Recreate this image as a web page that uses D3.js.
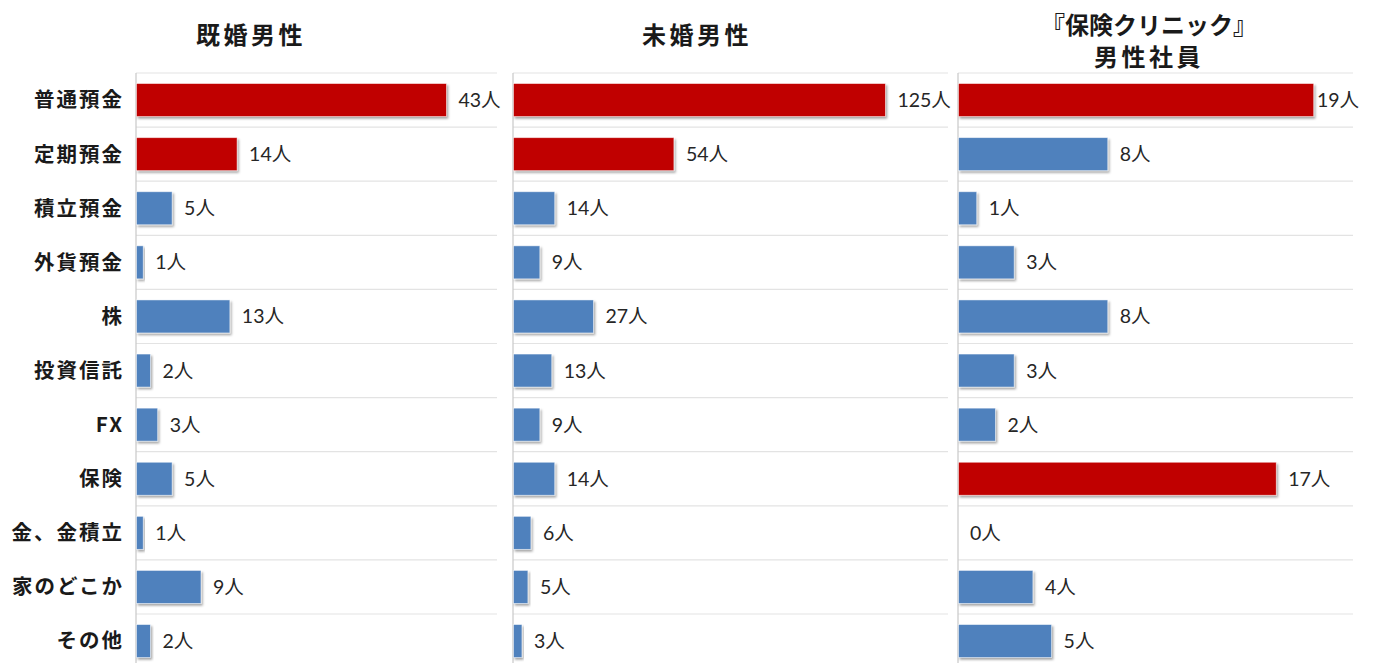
<!DOCTYPE html>
<html>
<head>
<meta charset="utf-8">
<script src="https://cdn.jsdelivr.net/npm/d3@7"></script>
<style>
    body { margin: 0; background: #fff; }
    svg { display: block; }
    .title { font-family: "Noto Sans CJK JP", sans-serif; font-weight: bold; fill: #1a1a1a; }
    .cat { font-family: "Noto Sans CJK JP", sans-serif; font-weight: bold; font-size: 20.5px; fill: #1a1a1a; }
    .val { font-family: "Lato", "Noto Sans CJK JP", sans-serif; font-size: 19.5px; fill: #262626; }
</style>
</head>
<body>
<div id="chart"></div>
<script>
// categories (top to bottom)
const categories = ["普通預金", "定期預金", "積立預金", "外貨預金", "株", "投資信託", "FX", "保険", "金、金積立", "家のどこか", "その他"];

// series values (people)
const marriedValues = [43, 14, 5, 1, 13, 2, 3, 5, 1, 9, 2];
const singleValues = [125, 54, 14, 9, 27, 13, 9, 14, 6, 5, 3];
const staffValues = [19, 8, 1, 3, 8, 3, 2, 17, 0, 4, 5];

// which rows are highlighted in red
const marriedHighlight = ["普通預金", "定期預金"];
const singleHighlight = ["普通預金", "定期預金"];
const staffHighlight = ["普通預金", "保険"];

const panelTitles = [["既婚男性"], ["未婚男性"], ["『保険クリニック』", "男性社員"]];

const width = 1375, height = 663;
const red = "#C00000", blue = "#4F81BD";

let svg = d3.select("#chart").append("svg")
    .attr("width", width)
    .attr("height", height);

//Drop shadow used by the bars
let defs = svg.append("defs");
defs.append("filter")
    .attr("id", "shadow")
    .attr("x", "-10%").attr("y", "-20%")
    .attr("width", "130%").attr("height", "160%")
    .append("feDropShadow")
    .attr("dx", 1.5).attr("dy", 2)
    .attr("stdDeviation", 1.2)
    .attr("flood-color", "#000")
    .attr("flood-opacity", 0.35);

let yScale = d3.scaleBand()
    .domain(categories)
    .range([73, 73 + 54.1 * categories.length])
    .paddingInner(0.39)
    .paddingOuter(0.195);

let panels = [
    {values: marriedValues, highlight: marriedHighlight, max: 50, x0: 136, x1: 497, titleX: 251, titleY: [44]},
    {values: singleValues, highlight: singleHighlight, max: 146, x0: 513, x1: 948, titleX: 697, titleY: [44]},
    {values: staffValues, highlight: staffHighlight, max: 21.1, x0: 958, x1: 1353, titleX: 1149, titleY: [34, 66]}
];

//Category labels on the left
svg.append("g").selectAll("text")
    .data(categories)
    .enter().append("text")
    .attr("class", "cat")
    .attr("x", 124)
    .attr("y", d => yScale(d) + yScale.bandwidth() / 2)
    .attr("dy", "0.36em")
    .attr("text-anchor", "end")
    .style("letter-spacing", "2px")
    .text(d => d);

panels.forEach((p, i) => {

    let xScale = d3.scaleLinear()
        .domain([0, p.max])
        .range([p.x0, p.x1]);

    let g = svg.append("g");

    //Horizontal grid lines at band boundaries
    let step = yScale.step();
    let top = yScale.range()[0];
    g.selectAll("line.grid")
        .data(d3.range(categories.length + 1))
        .enter().append("line")
        .attr("class", "grid")
        .attr("x1", p.x0).attr("x2", p.x1)
        .attr("y1", d => top + d * step)
        .attr("y2", d => top + d * step)
        .attr("stroke", "#e3e3e3")
        .attr("stroke-width", 1.2);

    //Vertical axis line
    g.append("line")
        .attr("x1", p.x0).attr("x2", p.x0)
        .attr("y1", top).attr("y2", height)
        .attr("stroke", "#c8c8c8")
        .attr("stroke-width", 1.2);

    let rows = categories.map((c, j) => ({cat: c, value: p.values[j]}));

    //Bars
    g.selectAll("rect")
        .data(rows.filter(d => d.value > 0))
        .enter().append("rect")
        .attr("x", xScale(0) + 0.5)
        .attr("y", d => yScale(d.cat))
        .attr("width", d => xScale(d.value) - xScale(0) - 0.5)
        .attr("height", yScale.bandwidth())
        .attr("fill", d => p.highlight.includes(d.cat) ? red : blue)
        .attr("stroke", "rgba(255,255,255,0.6)")
        .attr("stroke-width", 0.8)
        .attr("filter", "url(#shadow)");

    //Value labels, pulled back inside the panel when they would overflow
    g.selectAll("text.val")
        .data(rows)
        .enter().append("text")
        .attr("class", "val")
        .attr("y", d => yScale(d.cat) + yScale.bandwidth() / 2)
        .attr("dy", "0.36em")
        .text(d => d.value + "人")
        .each(function (d) {
            let w = this.getComputedTextLength();
            let x = xScale(d.value) + 12;
            if (x + w > p.x1 + 6) x = p.x1 + 6 - w;
            d3.select(this).attr("x", x);
        });

    //Panel title
    svg.append("g").selectAll("text")
        .data(panelTitles[i])
        .enter().append("text")
        .attr("class", "title")
        .attr("x", p.titleX)
        .attr("y", (d, k) => p.titleY[k])
        .attr("text-anchor", "middle")
        .style("font-size", "24px")
        .style("letter-spacing", d => d.startsWith("『") ? "0px" : "3.5px")
        .text(d => d);
});
</script>
</body>
</html>
